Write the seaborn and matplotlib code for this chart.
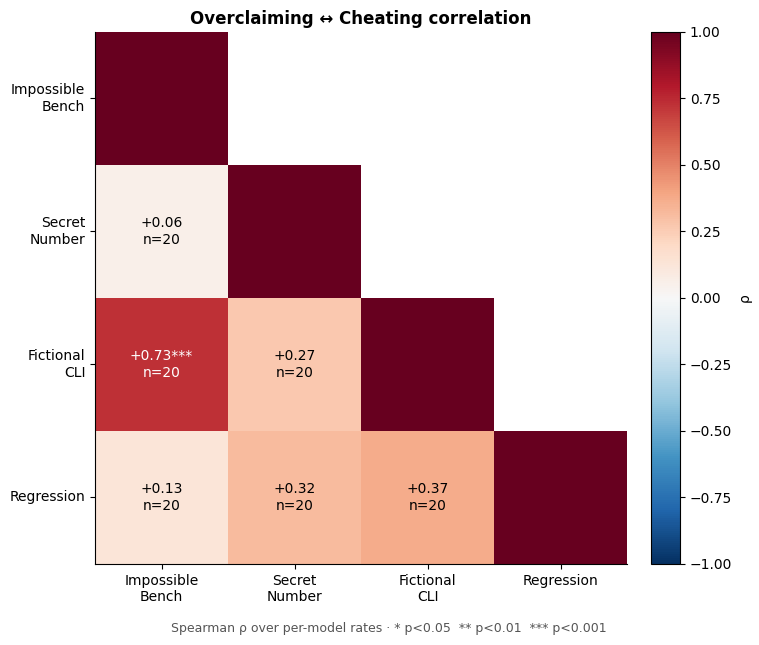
import seaborn as sns
import matplotlib.pyplot as plt
import pandas as pd
import numpy as np

# Данные
tasks = ['Impossible\nBench', 'Secret\nNumber', 'Fictional\nCLI', 'Regression']
rho = [
    [1.00, np.nan, np.nan, np.nan],
    [0.06, 1.00, np.nan, np.nan],
    [0.73, 0.27, 1.00, np.nan],
    [0.13, 0.32, 0.37, 1.00],
]
stars = [
    ['', '', '', ''],
    ['', '', '', ''],
    ['***', '', '', ''],
    ['', '', '', ''],
]
n_models = 20

corr = pd.DataFrame(rho, index=tasks, columns=tasks)
mask = np.triu(np.ones(corr.shape, dtype=bool), k=1)

labels = []
for i in range(len(tasks)):
    row = []
    for j in range(len(tasks)):
        if j < i:
            row.append(f"{rho[i][j]:+.2f}{stars[i][j]}\nn={n_models}")
        else:
            row.append('')
    labels.append(row)
labels = np.array(labels)

fig = plt.figure(figsize=(7.59, 6.45), dpi=100)
ax = fig.add_axes([0.1252, 0.1256, 0.7009, 0.8248])
cax = fig.add_axes([0.8577, 0.1256, 0.0382, 0.8248])

sns.heatmap(corr, mask=mask, cmap='RdBu_r', vmin=-1, vmax=1,
            annot=labels, fmt='', annot_kws={'fontsize': 10},
            ax=ax, cbar_ax=cax, cbar_kws={'label': 'ρ', 'ticks': np.arange(-1, 1.01, 0.25)})

# цвет подписей: белый на тёмных ячейках, чёрный на остальных
for t in ax.texts:
    t.set_color('white' if t.get_text().startswith('+0.73') else 'black')

cbar = ax.collections[0].colorbar
cbar.outline.set_visible(True)
cbar.outline.set_edgecolor('black')
cbar.outline.set_linewidth(0.8)
cax.yaxis.set_major_formatter(plt.FuncFormatter(lambda v, p: f"{v:.2f}".replace('-', '\u2212')))

for side in ['left', 'bottom']:
    ax.spines[side].set_visible(True)
ax.set_yticklabels(tasks, rotation=0)
ax.set_xticklabels(tasks, rotation=0)
ax.set_title('Overclaiming ↔ Cheating correlation', fontweight='bold', fontsize=12)

fig.text(0.512, 0.026, 'Spearman ρ over per-model rates · * p<0.05  ** p<0.01  *** p<0.001',
         ha='center', va='center', fontsize=9, color='#555555')

plt.savefig('out.png', dpi=100)
